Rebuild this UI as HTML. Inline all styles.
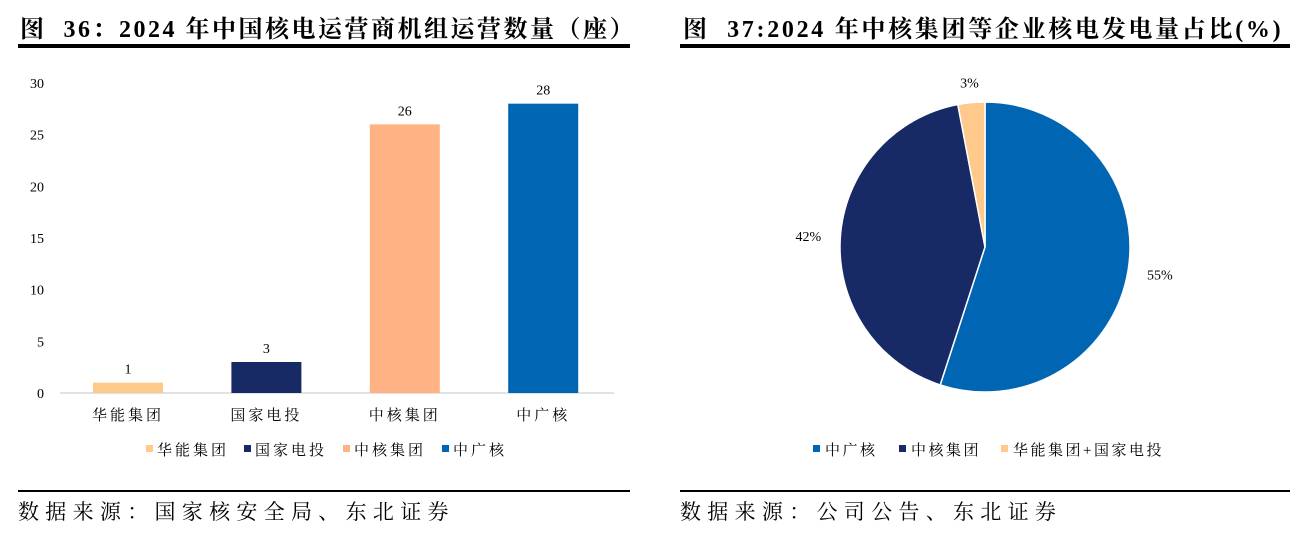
<!DOCTYPE html>
<html><head><meta charset="utf-8"><style>
body{margin:0;width:1311px;height:539px;background:#fff;overflow:hidden;position:relative;font-family:"Liberation Serif","Noto Serif CJK SC",serif;}
.abs{position:absolute;}
.title{font-weight:bold;font-size:24px;color:#000;top:9px;white-space:nowrap;}
.rule{height:4px;background:#000;}
.rule2{height:2px;background:#000;}
.src{font-size:21px;top:496px;white-space:nowrap;letter-spacing:6.3px;}
</style></head><body>
<div class="abs title" style="left:20px;letter-spacing:2.5px">图&nbsp;&nbsp;36：2024 年中国核电运营商机组运营数量（座）</div>
<div class="abs rule" style="left:18px;top:44px;width:612px"></div>
<div class="abs title" style="left:683px;letter-spacing:2.7px">图&nbsp;&nbsp;37:2024 年中核集团等企业核电发电量占比(%)</div>
<div class="abs rule" style="left:680px;top:44px;width:610px"></div>
<div class="abs rule2" style="left:18px;top:490px;width:612px"></div>
<div class="abs rule2" style="left:680px;top:490px;width:610px"></div>
<div class="abs src" style="left:18px">数据来源：国家核安全局、东北证券</div>
<div class="abs src" style="left:680px">数据来源：公司公告、东北证券</div>
<svg class="abs" style="left:0;top:0" width="1311" height="539" id="svg"></svg>
<script>
const cats=["华能集团","国家电投","中核集团","中广核"];
const vals=[1,3,26,28];
const barColors=["#FFC98B","#172A66","#FFB385","#0066B3"];
const yTicks=[0,5,10,15,20,25,30];
const pieCats=["中广核","中核集团","华能集团+国家电投"];
const pieVals=[55,42,3];
const pieColors=["#0066B3","#172A66","#FFC98B"];
const NS="http://www.w3.org/2000/svg";
const svg=document.getElementById('svg');
function mk(t,a,txt){const e=document.createElementNS(NS,t);for(const k in a)e.setAttribute(k,a[k]);if(txt!==undefined)e.textContent=txt;svg.appendChild(e);return e;}
const y0=393,yTop=83,yMax=30;
const y=v=>y0-(y0-yTop)*v/yMax;
const x=i=>128+i*138.4;
const ff='"Liberation Serif","Noto Serif CJK SC",serif';
yTicks.forEach(t=>{const e=mk('text',{x:44,y:y(t)+5,'text-anchor':'end','font-size':14,'font-family':ff},t);

});
const ax=mk('line',{x1:60,x2:614,y1:y0,y2:y0,stroke:'#d9d9d9','stroke-width':1.5});


vals.forEach((v,i)=>{
const r=mk('rect',{x:x(i)-35,y:y(v),width:70,height:y0-y(v),fill:barColors[i]});


const l=mk('text',{x:x(i),y:y(v)-9,'text-anchor':'middle','font-size':14,'font-family':ff},v);


const c=mk('text',{x:x(i),y:420,'text-anchor':'middle','font-size':15,'font-family':ff,'letter-spacing':3},cats[i]);


});
const lx=[146,244,343,442];
cats.forEach((c,i)=>{
const s=mk('rect',{x:lx[i],y:445,width:7,height:7,fill:barColors[i]});


const t=mk('text',{x:lx[i]+11,y:455,'font-size':15,'font-family':ff,'letter-spacing':3},c);


});
const cx=985,cy=247,R=145;
const tot=pieVals.reduce((a,b)=>a+b,0);
let a0=0;
pieVals.forEach((v,i)=>{
const a1=a0+v/tot*2*Math.PI;
const p=a=>[cx+R*Math.sin(a),cy-R*Math.cos(a)];
const [x0,y0p]=p(a0),[x1,y1]=p(a1);
const large=(a1-a0)>Math.PI?1:0;
const s=mk('path',{d:`M${cx},${cy}L${x0},${y0p}A${R},${R} 0 ${large} 1 ${x1},${y1}Z`,fill:pieColors[i],stroke:'#fff','stroke-width':1.5});


const m=(a0+a1)/2,lr=i==2?R+20:R+32;
const t=mk('text',{x:cx+lr*Math.sin(m),y:cy-lr*Math.cos(m)+5,'text-anchor':'middle','font-size':14,'font-family':ff},v+'%');


a0=a1;
});
const plx=[813,899,1001];
pieCats.forEach((c,i)=>{
const s=mk('rect',{x:plx[i],y:445,width:7,height:7,fill:pieColors[i]});


const t=mk('text',{x:plx[i]+12,y:455,'font-size':15,'font-family':ff,'letter-spacing':2.5},c);


});
</script>
</body></html>
